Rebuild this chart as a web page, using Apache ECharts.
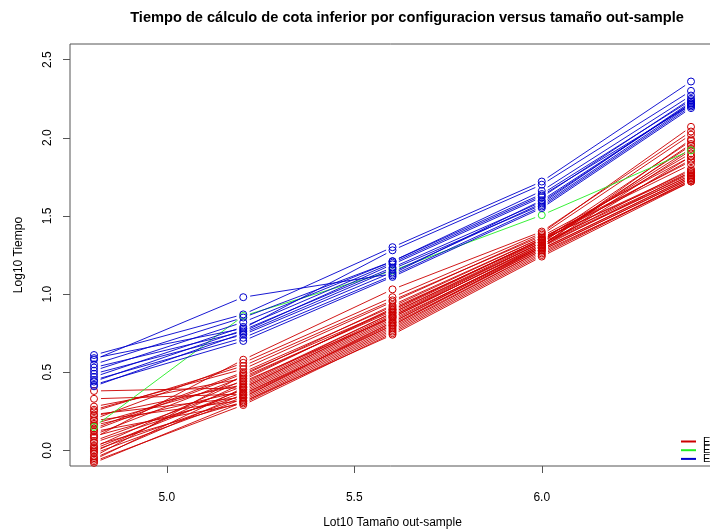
<!DOCTYPE html>
<html>
<head>
<meta charset="utf-8">
<script src="https://cdn.jsdelivr.net/npm/echarts@6/dist/echarts.min.js"></script>
<style>
  html, body { margin: 0; padding: 0; background: #fff; }
  #chart { width: 710px; height: 531px; }
</style>
</head>
<body>
<div id="chart"></div>
<script>
// log10 of the out-sample sizes (64k, 160k, 400k, 1M, 2.5M)
const sampleLog10 = [4.806, 5.204, 5.602, 6.0, 6.398];

// log10 computation time per configuration, one row per configuration
const redRuns = [
  [ 0.38, 0.40, 0.86, 1.33, 1.95],
  [ 0.33, 0.36, 0.80, 1.30, 1.88],
  [ 0.28, 0.46, 0.90, 1.35, 1.78],
  [ 0.26, 0.52, 0.95, 1.38, 2.02],
  [ 0.23, 0.34, 0.82, 1.31, 1.76],
  [ 0.22, 0.42, 0.88, 1.34, 1.98],
  [ 0.20, 0.56, 0.98, 1.39, 2.07],
  [ 0.19, 0.32, 0.78, 1.28, 1.74],
  [ 0.17, 0.44, 0.85, 1.32, 1.80],
  [ 0.16, 0.38, 0.84, 1.30, 1.92],
  [ 0.14, 0.50, 0.92, 1.36, 1.85],
  [ 0.12, 0.30, 0.76, 1.26, 1.73],
  [ 0.10, 0.47, 0.89, 1.35, 1.90],
  [ 0.09, 0.35, 0.81, 1.29, 1.75],
  [ 0.08, 0.58, 1.03, 1.40, 2.04],
  [ 0.06, 0.41, 0.87, 1.33, 1.77],
  [ 0.05, 0.37, 0.83, 1.31, 1.96],
  [ 0.03, 0.31, 0.77, 1.27, 1.72],
  [ 0.02, 0.45, 0.91, 1.34, 1.86],
  [ 0.01, 0.39, 0.85, 1.32, 1.76],
  [-0.01, 0.43, 0.88, 1.33, 1.93],
  [-0.02, 0.33, 0.79, 1.28, 1.74],
  [-0.04, 0.48, 0.93, 1.36, 1.83],
  [-0.05, 0.36, 0.82, 1.30, 1.78],
  [-0.06, 0.40, 0.86, 1.31, 1.99],
  [-0.07, 0.29, 0.75, 1.25, 1.73],
  [ 0.25, 0.54, 0.96, 1.37, 1.88],
  [ 0.13, 0.49, 0.90, 1.35, 1.79],
  [ 0.00, 0.34, 0.80, 1.29, 1.75],
  [-0.08, 0.31, 0.74, 1.24, 1.72]
];

const greenRuns = [
  [0.15, 0.86, 1.15, 1.505, 1.92]
];

const blueRuns = [
  [0.58, 0.98, 1.13, 1.60, 2.22],
  [0.61, 0.87, 1.30, 1.72, 2.36],
  [0.59, 0.78, 1.28, 1.70, 2.30],
  [0.55, 0.85, 1.21, 1.66, 2.27],
  [0.53, 0.76, 1.19, 1.62, 2.25],
  [0.51, 0.82, 1.21, 1.64, 2.24],
  [0.49, 0.74, 1.14, 1.58, 2.23],
  [0.47, 0.79, 1.20, 1.63, 2.21],
  [0.45, 0.72, 1.12, 1.56, 2.20],
  [0.44, 0.77, 1.17, 1.59, 2.22],
  [0.42, 0.70, 1.11, 1.55, 2.19],
  [0.41, 0.75, 1.16, 1.57, 2.21]
];

const groupNames = ['Exacto', 'Estocástico', 'Eficiente'];
const groupColors = ['#CD0000', '#22EE22', '#0000CD'];
const groups = [redRuns, greenRuns, blueRuns];

const xTicks = [5.0, 5.5, 6.0];
const yTicks = [0.0, 0.5, 1.0, 1.5, 2.0, 2.5];

const FONT = '"Liberation Sans", Arial, Helvetica, sans-serif';
const GAP = 7; // pixels left open around each point (type "b" style)

function segmentsOf(runs) {
  const out = [];
  runs.forEach(r => {
    for (let i = 0; i < r.length - 1; i++) {
      out.push([sampleLog10[i], r[i], sampleLog10[i + 1], r[i + 1]]);
    }
  });
  return out;
}
function pointsOf(runs) {
  const out = [];
  runs.forEach(r => r.forEach((v, i) => out.push([sampleLog10[i], v])));
  return out;
}

const series = [];
groups.forEach((runs, gi) => {
  const color = groupColors[gi];
  series.push({
    name: groupNames[gi],
    type: 'custom',
    clip: true,
    itemStyle: { color: color },
    encode: { x: [0, 2], y: [1, 3] },
    data: segmentsOf(runs),
    renderItem: function (params, api) {
      const p1 = api.coord([api.value(0), api.value(1)]);
      const p2 = api.coord([api.value(2), api.value(3)]);
      const dx = p2[0] - p1[0], dy = p2[1] - p1[1];
      const f = GAP / Math.sqrt(dx * dx + dy * dy);
      return {
        type: 'line',
        shape: {
          x1: p1[0] + dx * f, y1: p1[1] + dy * f,
          x2: p2[0] - dx * f, y2: p2[1] - dy * f
        },
        style: { stroke: color, lineWidth: 1, opacity: 0.9 }
      };
    }
  });
  series.push({
    name: groupNames[gi],
    type: 'scatter',
    symbol: 'circle',
    symbolSize: 7,
    clip: true,
    itemStyle: { color: 'rgba(0,0,0,0)', borderColor: color, borderWidth: 1, opacity: 1 },
    data: pointsOf(runs),
    silent: true
  });
});

const chart = echarts.init(document.getElementById('chart'), null, { renderer: 'canvas' });
chart.setOption({
  animation: false,
  backgroundColor: '#ffffff',
  title: {
    text: 'Tiempo de cálculo de cota inferior por configuracion versus tamaño out-sample',
    left: 402,
    textAlign: 'center',
    top: 5,
    textStyle: { fontFamily: FONT, fontSize: 14.6, fontWeight: 'bold', color: '#000' }
  },
  legend: {
    orient: 'vertical',
    left: 681,
    top: 436,
    itemWidth: 15,
    itemHeight: 2,
    itemGap: -2.3,
    icon: 'rect',
    data: groupNames.map((n, i) => ({ name: n, itemStyle: { color: groupColors[i] } })),
    textStyle: { fontFamily: FONT, fontSize: 11, lineHeight: 8.7, color: '#000', padding: [0, 0, 0, 2] },
    padding: 0
  },
  grid: {
    left: 70, top: 44, width: 645, height: 422,
    outerBoundsMode: 'none',
    containLabel: false,
    show: true, borderColor: '#555', borderWidth: 1, backgroundColor: 'transparent'
  },
  xAxis: {
    type: 'value',
    min: 4.742, max: 6.462,
    name: 'Lot10 Tamaño out-sample',
    nameLocation: 'middle',
    nameGap: 51,
    nameTextStyle: { fontFamily: FONT, fontSize: 12, color: '#000' },
    splitLine: { show: false },
    axisLine: { show: false, onZero: false },
    axisTick: { show: true, inside: false, length: 7, lineStyle: { color: '#555' }, customValues: xTicks },
    axisLabel: {
      fontFamily: FONT, fontSize: 12, color: '#000', margin: 26,
      customValues: xTicks,
      formatter: v => v.toFixed(1)
    }
  },
  yAxis: {
    type: 'value',
    min: -0.1, max: 2.6,
    name: 'Log10 Tiempo',
    nameLocation: 'middle',
    nameGap: 45,
    nameTextStyle: { fontFamily: FONT, fontSize: 12, color: '#000' },
    splitLine: { show: false },
    axisLine: { show: false, onZero: false },
    axisTick: { show: true, inside: false, length: 7, lineStyle: { color: '#555' }, customValues: yTicks },
    axisLabel: {
      fontFamily: FONT, fontSize: 12, color: '#000', margin: 16, rotate: 90,
      customValues: yTicks,
      formatter: v => v.toFixed(1)
    }
  },
  series: series
});
</script>
</body>
</html>
